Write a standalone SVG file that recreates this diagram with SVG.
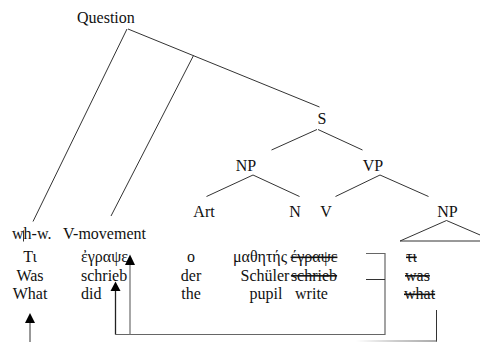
<svg xmlns="http://www.w3.org/2000/svg" width="480" height="342" viewBox="0 0 480 342">
  <style>
    text { font-family: "Liberation Serif", "Times New Roman", serif; font-size: 16px; fill: #111; }
    .c { text-anchor: middle; }
    .del { text-decoration: line-through; }
    .ln { stroke: #333; stroke-width: 1; fill: none; }
    .gr { stroke: #666; stroke-width: 1.2; fill: none; }
  </style>
  <defs>
    <linearGradient id="fade" gradientUnits="userSpaceOnUse" x1="356" y1="0" x2="437" y2="0">
      <stop offset="0" stop-color="#fff"/>
      <stop offset="0.5" stop-color="#999"/>
      <stop offset="1" stop-color="#555"/>
    </linearGradient>
  </defs>

  <!-- tree nodes -->
  <g id="question"><text x="77" y="23">Question</text></g>
  <g id="s"><text class="c" x="322" y="124">S</text></g>
  <g id="np-subject"><text class="c" x="246" y="170.5">NP</text></g>
  <g id="vp"><text class="c" x="373" y="170.5">VP</text></g>
  <g id="art"><text class="c" x="204" y="216.5">Art</text></g>
  <g id="n"><text class="c" x="295" y="216.5">N</text></g>
  <g id="v"><text class="c" x="326" y="216.5">V</text></g>
  <g id="np-object"><text class="c" x="447.5" y="216.5">NP</text></g>
  <g id="wh-w"><text x="12" y="239">wh-w.</text></g>
  <g id="v-movement"><text x="63" y="239">V-movement</text></g>

  <!-- word rows: Greek, German, English -->
  <g id="col-wh">
    <text class="c" x="30" y="262">Τι</text>
    <text class="c" x="30" y="280.5">Was</text>
    <text class="c" x="30" y="299">What</text>
  </g>
  <g id="col-verb">
    <text x="81" y="262">ἐγραψε</text>
    <text x="81" y="280.5">schrieb</text>
    <text x="81" y="299">did</text>
  </g>
  <g id="col-art">
    <text class="c" x="191" y="262">ο</text>
    <text class="c" x="191" y="280.5">der</text>
    <text class="c" x="191" y="299">the</text>
  </g>
  <g id="col-noun">
    <text class="c" x="260" y="262">μαθητής</text>
    <text class="c" x="265" y="280.5">Schüler</text>
    <text class="c" x="266" y="299">pupil</text>
  </g>
  <g id="col-trace-verb">
    <text class="c del" x="314" y="262">έγραψε</text>
    <text class="c del" x="314" y="280.5">schrieb</text>
    <text class="c" x="311.5" y="299">write</text>
  </g>
  <g id="col-trace-wh">
    <text class="del" x="406" y="262">τι</text>
    <text class="del" x="405" y="280.5">was</text>
    <text class="del" x="404" y="299">what</text>
  </g>

  <!-- connectors -->
  <g id="connectors">
    <!-- Question branches -->
    <line class="ln" x1="127" y1="29" x2="33" y2="221.5"/>
    <line class="ln" x1="128" y1="29" x2="319.5" y2="107"/>
    <line class="ln" x1="193.5" y1="55.5" x2="111" y2="216"/>
    <line class="ln" x1="23.5" y1="230.5" x2="23.5" y2="241.5"/>
    <!-- S -->
    <line class="ln" x1="317" y1="129.5" x2="271.5" y2="150"/>
    <line class="ln" x1="318" y1="129.5" x2="362.5" y2="150"/>
    <!-- NP subject -->
    <line class="ln" x1="253" y1="175" x2="206.5" y2="196.5"/>
    <line class="ln" x1="253" y1="175" x2="299.5" y2="196.5"/>
    <!-- VP -->
    <line class="ln" x1="380" y1="175" x2="335.5" y2="196.5"/>
    <line class="ln" x1="380" y1="175" x2="428.5" y2="196.5"/>
    <!-- NP object triangle -->
    <polyline class="ln" points="400,241 446.5,220.5 494,241"/>
    <line class="ln" x1="400" y1="241" x2="480" y2="241"/>

    <!-- verb traces bracket -->
    <polyline class="gr" points="366,253.5 385,253.5 385,334.5 115.5,334.5"/>
    <line class="ln" x1="366" y1="279.5" x2="385" y2="279.5"/>
    <!-- movement arrows -->
    <line stroke="#222" stroke-width="1.3" x1="115.5" y1="289" x2="115.5" y2="334.5"/>
    <polygon fill="#000" points="115.5,281.5 110.5,291 120.5,291"/>
    <line stroke="#777" stroke-width="1.3" x1="130" y1="263" x2="130" y2="334.5"/>
    <polygon fill="#000" points="130,254.5 125,265 135,265"/>
    <!-- wh trace -->
    <line class="ln" x1="436.5" y1="310" x2="436.5" y2="341.5"/>
    <line stroke="url(#fade)" stroke-width="1.2" x1="356" y1="341" x2="437" y2="341"/>
    <!-- wh arrow -->
    <line class="ln" x1="30" y1="321" x2="30" y2="342"/>
    <polygon fill="#000" points="30,313 25,323 35,323"/>
  </g>
</svg>
